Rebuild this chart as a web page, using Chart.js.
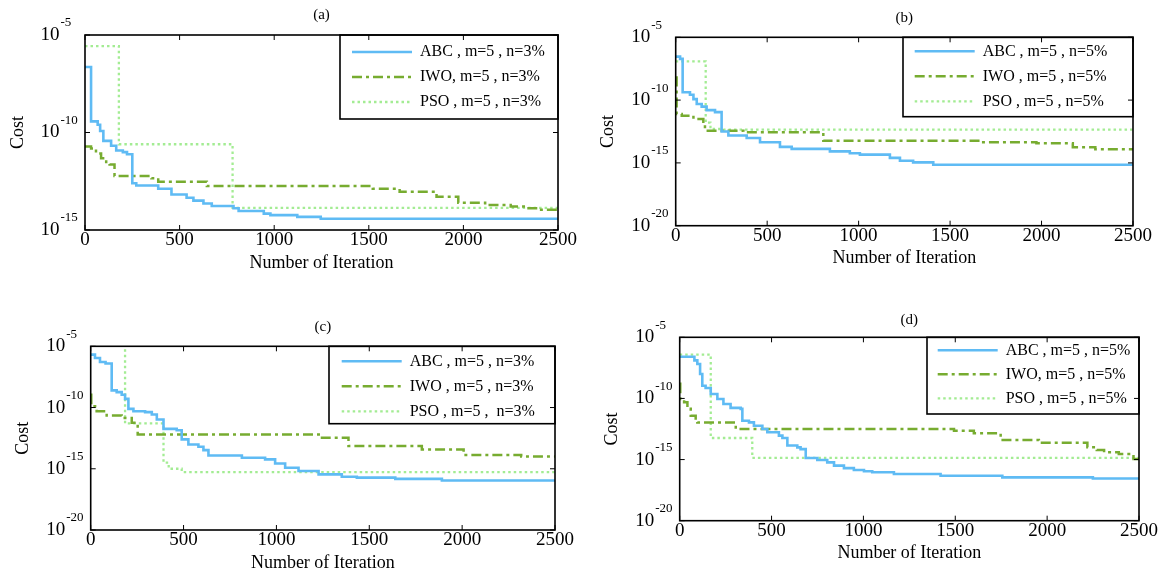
<!DOCTYPE html>
<html>
<head>
<meta charset="utf-8">
<script src="https://cdn.jsdelivr.net/npm/chart.js@4.4.1/dist/chart.umd.min.js"></script>
<style>
  body { margin: 0; background: #fff; }
  #wrap { position: relative; width: 1164px; height: 579px; }
  canvas { position: absolute; }
</style>
</head>
<body>
<div id="wrap">
  <canvas id="chartA" width="582" height="290" style="left:0;top:0"></canvas>
  <canvas id="chartB" width="582" height="290" style="left:582px;top:0"></canvas>
  <canvas id="chartC" width="582" height="289" style="left:0;top:290px"></canvas>
  <canvas id="chartD" width="582" height="289" style="left:582px;top:290px"></canvas>
</div>
<script>
// axis ticks
var xTicks = [0, 500, 1000, 1500, 2000, 2500];
var xTickLabels = ['0', '500', '1000', '1500', '2000', '2500'];
var yTicksA = [1e-5, 1e-10, 1e-15];
var yTickLabelsA = ['-5', '-10', '-15'];
var yTicks = [1e-5, 1e-10, 1e-15, 1e-20];
var yTickLabels = ['-5', '-10', '-15', '-20'];

// (a)  [iteration, cost]
var abcA = [[0, 2.3e-7], [32, 3.7e-10], [67, 2.5e-10], [80, 1.2e-10], [97, 3.7e-11], [138, 2.1e-11],
  [165, 1.2e-11], [200, 9.8e-12], [222, 7.6e-12], [250, 2.5e-13], [271, 1.9e-13], [387, 1.3e-13],
  [457, 6.6e-14], [537, 4.5e-14], [573, 3.2e-14], [626, 2.3e-14], [670, 1.7e-14], [785, 1.3e-14],
  [812, 9.5e-15], [945, 6.9e-15], [980, 5.8e-15], [1122, 4.7e-15], [1246, 3.8e-15], [2500, 3.8e-15]];
var iwoA = [[0, 1.9e-11], [32, 1.5e-11], [58, 8.5e-12], [85, 4.8e-12], [112, 2.6e-12], [130, 2.3e-12],
  [156, 5.9e-13], [351, 4.5e-13], [387, 3.0e-13], [644, 1.8e-13], [1521, 1.3e-13], [1663, 9.1e-14],
  [1858, 5.0e-14], [1973, 2.5e-14], [2115, 1.9e-14], [2250, 1.6e-14], [2330, 1.3e-14], [2400, 1.1e-14],
  [2500, 1.1e-14]];
var psoA = [[0, 2.7e-6], [179, 2.5e-11], [780, 1.35e-14], [2500, 1.35e-14]];
var namesA = ['ABC , m=5 , n=3%', 'IWO, m=5 , n=3%', 'PSO , m=5 , n=3%'];

// (b)
var abcB = [[0, 2.9e-7], [24, 1.9e-7], [38, 4.2e-10], [78, 2.7e-10], [97, 1.2e-10], [115, 4.9e-11],
  [142, 3.0e-11], [169, 1.6e-11], [215, 1.1e-11], [251, 3.2e-13], [288, 1.5e-13], [388, 9.5e-14],
  [461, 4.4e-14], [570, 1.9e-14], [634, 1.3e-14], [843, 8.3e-15], [952, 5.8e-15], [1007, 4.6e-15],
  [1171, 2.5e-15], [1226, 1.5e-15], [1298, 1.1e-15], [1408, 7.2e-16], [2500, 7.2e-16]];
var iwoB = [[0, 6.3e-9], [5, 7.9e-12], [33, 5.8e-12], [97, 3.2e-12], [151, 1.4e-12], [160, 3.7e-13],
  [370, 2.7e-13], [807, 5.9e-14], [1681, 4.4e-14], [1972, 3.6e-14], [2171, 1.8e-14], [2294, 1.2e-14],
  [2500, 1.2e-14]];
var psoB = [[0, 1.2e-7], [164, 1.6e-12], [190, 5.0e-13], [260, 4.5e-13], [2500, 4.5e-13]];
var namesB = ['ABC , m=5 , n=5%', 'IWO , m=5 , n=5%', 'PSO , m=5 , n=5%'];

// (c)
var abcC = [[0, 2.1e-6], [23, 1.1e-6], [50, 5.2e-7], [80, 3.9e-7], [113, 2.5e-9], [140, 1.8e-9],
  [167, 1.1e-9], [185, 5.1e-10], [203, 7.8e-11], [230, 5.0e-11], [293, 4.2e-11], [329, 2.7e-11],
  [356, 1.05e-11], [392, 1.8e-12], [463, 1.4e-12], [490, 2.5e-13], [526, 9.5e-14], [580, 6.2e-14],
  [607, 3.3e-14], [634, 1.2e-14], [814, 7.9e-15], [939, 5.8e-15], [993, 2.7e-15], [1047, 1.2e-15],
  [1119, 6.5e-16], [1227, 3.5e-16], [1352, 2.2e-16], [1433, 1.9e-16], [1640, 1.5e-16], [1891, 1.1e-16],
  [2500, 1.1e-16]];
var iwoC = [[0, 1.1e-9], [3, 1.3e-10], [32, 5.0e-11], [86, 2.2e-11], [167, 1.4e-11], [221, 5.6e-12],
  [253, 6.3e-13], [1236, 3.4e-13], [1388, 7.1e-14], [1783, 3.8e-14], [2008, 1.3e-14], [2318, 1.0e-14],
  [2500, 1.0e-14]];
var psoC = [[0, 1e-4], [185, 5.0e-12], [392, 3.2e-15], [420, 1.0e-15], [490, 5.4e-16], [2500, 5.4e-16]];
var namesC = ['ABC , m=5 , n=3%', 'IWO , m=5 , n=3%', 'PSO , m=5 ,  n=3%'];

// (d)
var abcD = [[0, 2.6e-7], [80, 1.3e-7], [96, 6.6e-8], [111, 1.0e-8], [123, 1.1e-9], [141, 7.1e-10],
  [169, 2.3e-10], [205, 8.9e-11], [238, 3.5e-11], [277, 1.7e-11], [332, 1.4e-11], [341, 1.5e-12],
  [377, 1.1e-12], [404, 5.9e-13], [450, 3.2e-13], [477, 1.7e-13], [540, 9.1e-14], [559, 5.8e-14],
  [586, 1.4e-14], [640, 1.0e-14], [658, 7.2e-15], [686, 1.35e-15], [749, 9.1e-16], [803, 5.9e-16],
  [840, 3.2e-16], [894, 2.0e-16], [948, 1.4e-16], [1003, 1.1e-16], [1048, 9.1e-17], [1166, 6.6e-17],
  [1420, 4.8e-17], [1756, 3.5e-17], [2249, 2.8e-17], [2500, 2.8e-17]];
var iwoD = [[0, 1.6e-9], [3, 8.9e-11], [24, 4.8e-11], [42, 1.4e-11], [60, 3.9e-12], [87, 1.35e-12],
  [96, 1.1e-12], [305, 3.2e-13], [1493, 2.3e-13], [1601, 1.4e-13], [1747, 4.0e-14], [1955, 2.4e-14],
  [2219, 1.0e-14], [2270, 6.0e-15], [2310, 3.9e-15], [2390, 2.8e-15], [2470, 1.1e-15], [2500, 8.3e-16]];
var psoD = [[0, 3.8e-7], [169, 5.8e-14], [395, 1.35e-15], [2500, 1.35e-15]];
var namesD = ['ABC , m=5 , n=5%', 'IWO, m=5 , n=5%', 'PSO , m=5 , n=5%'];

var lineStyles = [
  { color: '#5fbbf4', width: 2.6, dash: [] },
  { color: '#77ac30', width: 2.5, dash: [10, 4, 3, 4] },
  { color: '#a3ec93', width: 2.3, dash: [2.5, 3] }
];

// where each panel sits inside its canvas
var panels = [
  { id: 'chartA', title: '(a)', yTicks: yTicksA, yLabels: yTickLabelsA, series: [abcA, iwoA, psoA], names: namesA,
    area: { l: 85, t: 35, r: 558, b: 230 }, titleY: 15, legendW: 218, legendH: 84, legendDx: 3, legendDy: 0, gap: 9 },
  { id: 'chartB', title: '(b)', yTicks: yTicks, yLabels: yTickLabels, series: [abcB, iwoB, psoB], names: namesB,
    area: { l: 93.7, t: 37.3, r: 551, b: 225.7 }, titleY: 18, legendW: 230, legendH: 79.4, legendDx: 2.7, legendDy: -3, gap: 9 },
  { id: 'chartC', title: '(c)', yTicks: yTicks, yLabels: yTickLabels, series: [abcC, iwoC, psoC], names: namesC,
    area: { l: 90.7, t: 56.3, r: 555, b: 240 }, titleY: 37, legendW: 226, legendH: 77.4, legendDx: 3.7, legendDy: -2, gap: 9 },
  { id: 'chartD', title: '(d)', yTicks: yTicks, yLabels: yTickLabels, series: [abcD, iwoD, psoD], names: namesD,
    area: { l: 97.7, t: 47.3, r: 557, b: 230.7 }, titleY: 30, legendW: 212, legendH: 76.7, legendDx: 2.7, legendDy: -3, gap: 8 }
];

Chart.defaults.font.family = '"Liberation Serif", "Times New Roman", serif';
Chart.defaults.color = '#000';

var Y_AXIS_W = 80;
var X_AXIS_H = 45;

// frame, inward ticks, 10^n labels, legend box
var framePlugin = {
  id: 'frame',
  afterLayout: function (chart, args, opts) {
    var lg = chart.legend, a = chart.chartArea;
    lg.left = a.right - opts.legendW + opts.legendDx;
    lg.top = a.top + opts.legendDy;
    lg.right = a.right;
    lg.bottom = a.bottom;
    lg.width = lg.right - lg.left;
    lg.height = lg.bottom - lg.top;
  },
  afterDraw: function (chart, args, opts) {
    var ctx = chart.ctx, a = chart.chartArea;
    var xs = chart.scales.x, ys = chart.scales.y;
    ctx.save();
    ctx.strokeStyle = '#000';
    ctx.lineWidth = 1;
    ctx.beginPath();
    xs.ticks.forEach(function (t) {
      var px = xs.getPixelForValue(t.value);
      ctx.moveTo(px, a.bottom); ctx.lineTo(px, a.bottom - 5);
      ctx.moveTo(px, a.top); ctx.lineTo(px, a.top + 5);
    });
    ys.ticks.forEach(function (t) {
      var py = ys.getPixelForValue(t.value);
      ctx.moveTo(a.left, py); ctx.lineTo(a.left + 5, py);
      ctx.moveTo(a.right, py); ctx.lineTo(a.right - 5, py);
    });
    ctx.stroke();
    ctx.lineWidth = 1.6;
    ctx.strokeRect(a.left, a.top, a.right - a.left, a.bottom - a.top);
    ctx.strokeRect(a.right - opts.legendW, a.top, opts.legendW, opts.legendH);

    ctx.fillStyle = '#000';
    ctx.textBaseline = 'middle';
    ctx.textAlign = 'left';
    ys.ticks.forEach(function (t, i) {
      var py = ys.getPixelForValue(t.value);
      var x0 = a.left - 44.5;
      ctx.font = '19px "Liberation Serif"';
      ctx.fillText('10', x0, py);
      var w = ctx.measureText('10').width;
      ctx.font = '13px "Liberation Serif"';
      ctx.fillText(opts.yLabels[i], x0 + w + 1, py - 12);
    });
    ctx.restore();
  }
};

function makeChart(p) {
  var canvas = document.getElementById(p.id);
  var W = canvas.width, H = canvas.height;
  var padTop = p.titleY - 7.5;
  return new Chart(canvas.getContext('2d'), {
    type: 'line',
    data: {
      datasets: p.series.map(function (s, i) {
        return {
          label: p.names[i],
          data: s.map(function (d) { return { x: d[0], y: d[1] }; }),
          borderColor: lineStyles[i].color,
          backgroundColor: lineStyles[i].color,
          borderWidth: lineStyles[i].width,
          borderDash: lineStyles[i].dash,
          stepped: true,
          pointRadius: 0,
          fill: false
        };
      })
    },
    options: {
      responsive: false,
      animation: false,
      devicePixelRatio: 1,
      events: [],
      layout: {
        padding: { left: p.area.l - Y_AXIS_W, top: 0, right: W - p.area.r, bottom: H - p.area.b - X_AXIS_H }
      },
      scales: {
        x: {
          type: 'linear', min: 0, max: 2500,
          grid: { display: false, drawTicks: false },
          border: { display: false },
          afterBuildTicks: function (s) { s.ticks = xTicks.map(function (v) { return { value: v }; }); },
          ticks: {
            padding: 1, maxRotation: 0, autoSkip: false, color: '#000',
            font: { size: 19, lineHeight: 1 },
            callback: function (v, i) { return xTickLabels[i]; }
          },
          title: { display: true, text: 'Number of Iteration', color: '#000',
            font: { size: 18, lineHeight: 1 }, padding: { top: 0, bottom: 3 } },
          afterFit: function (s) { s.height = X_AXIS_H; }
        },
        y: {
          type: 'logarithmic',
          min: p.yTicks[p.yTicks.length - 1], max: p.yTicks[0],
          grid: { display: false, drawTicks: false },
          border: { display: false },
          afterBuildTicks: function (s) { s.ticks = p.yTicks.map(function (v) { return { value: v }; }); },
          ticks: { display: false },
          title: { display: true, text: 'Cost', color: '#000',
            font: { size: 18, lineHeight: 1 }, padding: { top: 4, bottom: 0 } },
          afterFit: function (s) { s.width = Y_AXIS_W; }
        }
      },
      plugins: {
        title: {
          display: true, text: p.title, fullSize: false, color: '#000',
          font: { size: 15, weight: 'normal', lineHeight: 1 },
          padding: { top: padTop, bottom: p.area.t - 15 - padTop }
        },
        legend: {
          position: 'chartArea', align: 'start',
          labels: {
            usePointStyle: true, pointStyle: 'line', pointStyleWidth: 60,
            padding: p.gap, color: '#000', font: { size: 16 },
            generateLabels: function (chart) {
              return chart.data.datasets.map(function (ds, i) {
                return {
                  text: ds.label, strokeStyle: ds.borderColor, fillStyle: ds.borderColor,
                  lineWidth: ds.borderWidth, lineDash: ds.borderDash, pointStyle: 'line',
                  fontColor: '#000', hidden: false, datasetIndex: i
                };
              });
            }
          }
        },
        tooltip: { enabled: false },
        frame: { legendW: p.legendW, legendH: p.legendH, legendDx: p.legendDx, legendDy: p.legendDy, yLabels: p.yLabels }
      }
    },
    plugins: [framePlugin]
  });
}

panels.forEach(makeChart);
</script>
</body>
</html>
